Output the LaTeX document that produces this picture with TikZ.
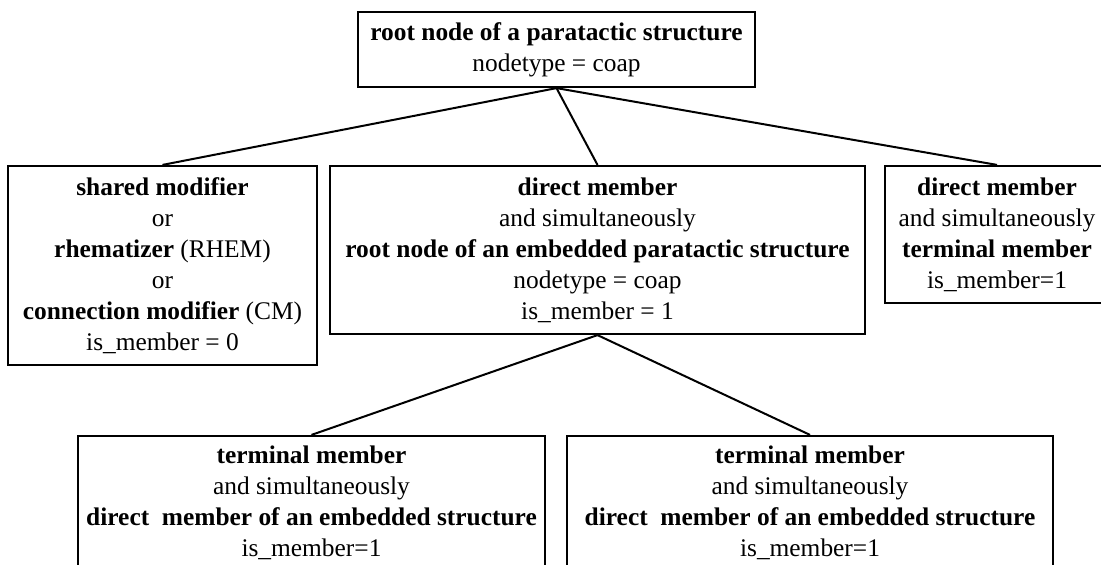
\documentclass[tikz,border=0pt]{standalone}
\usepackage{fontspec}
\setmainfont{Liberation Serif}
\begin{document}
\begin{tikzpicture}[x=1pt,y=-1pt,
  box/.style={draw=black, line width=2.2pt, inner sep=0pt, align=center,
    font=\fontsize{25.4}{31}\selectfont, text=black},
  link/.style={line width=2pt, black}]
\useasboundingbox (0,0) rectangle (1101,565);
\begin{scope}
\clip (0,0) rectangle (1101,565);
\node[box, minimum width=397pt, minimum height=75pt] (root) at (556.5,49.5)
  {\textbf{root node of a paratactic structure}\\nodetype = coap};
\node[box, minimum width=309pt, minimum height=199pt] (shared) at (162.5,265.5)
  {\textbf{shared modifier}\\or\\\textbf{rhematizer} (RHEM)\\or\\\textbf{connection modifier} (CM)\\is\_member = 0};
\node[box, minimum width=535pt, minimum height=168pt] (mid) at (597.5,250)
  {\textbf{direct member}\\and simultaneously\\\textbf{root node of an embedded paratactic structure}\\nodetype = coap\\is\_member = 1};
\node[box, minimum width=224pt, minimum height=137pt] (right) at (997,234.5)
  {\textbf{direct member}\\and simultaneously\\\textbf{terminal member}\\is\_member=1};
\node[box, minimum width=467pt, minimum height=134pt] (bl) at (311.5,503)
  {\textbf{terminal member}\\and simultaneously\\\textbf{direct~~member of an embedded structure}\\is\_member=1};
\node[box, minimum width=486pt, minimum height=134pt] (br) at (810,503)
  {\textbf{terminal member}\\and simultaneously\\\textbf{direct~~member of an embedded structure}\\is\_member=1};
\draw[link] (root.south) -- (shared.north);
\draw[link] (root.south) -- (mid.north);
\draw[link] (root.south) -- (right.north);
\draw[link] (mid.south) -- (bl.north);
\draw[link] (mid.south) -- (br.north);
\end{scope}
\end{tikzpicture}
\end{document}
